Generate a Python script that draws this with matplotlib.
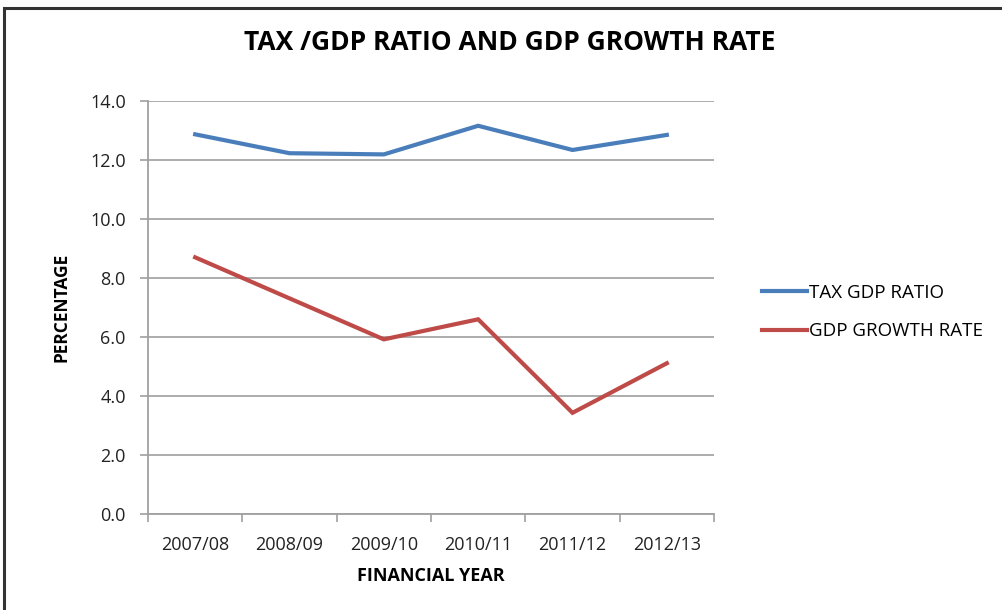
import matplotlib
matplotlib.use("Agg")
import matplotlib.pyplot as plt
import numpy as np
from matplotlib.patches import Rectangle

years = ["2007/08", "2008/09", "2009/10", "2010/11", "2011/12", "2012/13"]
tax_gdp_ratio = [12.87, 12.23, 12.19, 13.16, 12.34, 12.85]
gdp_growth = [8.70, 7.31, 5.92, 6.60, 3.43, 5.11]
yticks = [0.0, 2.0, 4.0, 6.0, 8.0, 10.0, 12.0, 14.0]

plt.rcParams['font.family'] = ['Open Sans', 'DejaVu Sans']

W, H = 1003, 610
fig = plt.figure(figsize=(W / 100, H / 100), dpi=100)
fig.patch.set_facecolor("white")

# outer frame
fig.add_artist(Rectangle((4 / W, -0.1), 1.2, (H - 8) / H + 0.1, transform=fig.transFigure,
                         fill=False, edgecolor="#333333", linewidth=2.2))

ax = fig.add_axes([148 / W, (H - 514) / H, (714 - 148) / W, (514 - 101) / H])
x = np.arange(len(years))
ax.plot(x, tax_gdp_ratio, color="#4a7ebb", lw=3, label="TAX GDP RATIO", solid_joinstyle="miter")
ax.plot(x, gdp_growth, color="#be4b48", lw=3, label="GDP GROWTH RATE", solid_joinstyle="miter")

ax.set_xlim(-0.5, len(years) - 0.5)
ax.set_ylim(0, 14)
ax.set_yticks(yticks)
ax.set_yticklabels([f"{v:.1f}" for v in yticks], fontsize=13, color="#222222")
ax.set_xticks(np.arange(-0.5, len(years), 1.0))
ax.set_xticklabels([])
ax.set_xticks(x, minor=True)
ax.set_xticklabels(years, minor=True, fontsize=13, color="#222222")
ax.tick_params(axis="x", which="major", length=6, color="#a0a0a0", width=1.2)
ax.tick_params(axis="x", which="minor", length=0, pad=16)
ax.tick_params(axis="y", length=6, color="#a0a0a0", width=1.2, pad=10)

ax.grid(axis="y", color="#a6a6a6", lw=1.3)
ax.set_axisbelow(True)
for s in ["top", "right"]:
    ax.spines[s].set_visible(False)
for s in ["left", "bottom"]:
    ax.spines[s].set_color("#a0a0a0")
    ax.spines[s].set_linewidth(1.3)

ax.set_ylabel("PERCENTAGE", fontsize=12.5, fontweight="bold", labelpad=14)
ax.set_xlabel("FINANCIAL YEAR", fontsize=13, fontweight="bold", labelpad=9)

fig.text(510 / W, 1 - 42 / H, "TAX /GDP RATIO AND GDP GROWTH RATE", ha="center", va="center",
         fontsize=19, fontweight="bold")

leg = fig.legend(loc="center left", bbox_to_anchor=(745 / W, 1 - 312 / H), frameon=False,
                 fontsize=13.5, handlelength=2.4, handletextpad=0.1, labelspacing=1.08)

fig.savefig("out.png", dpi=100)
